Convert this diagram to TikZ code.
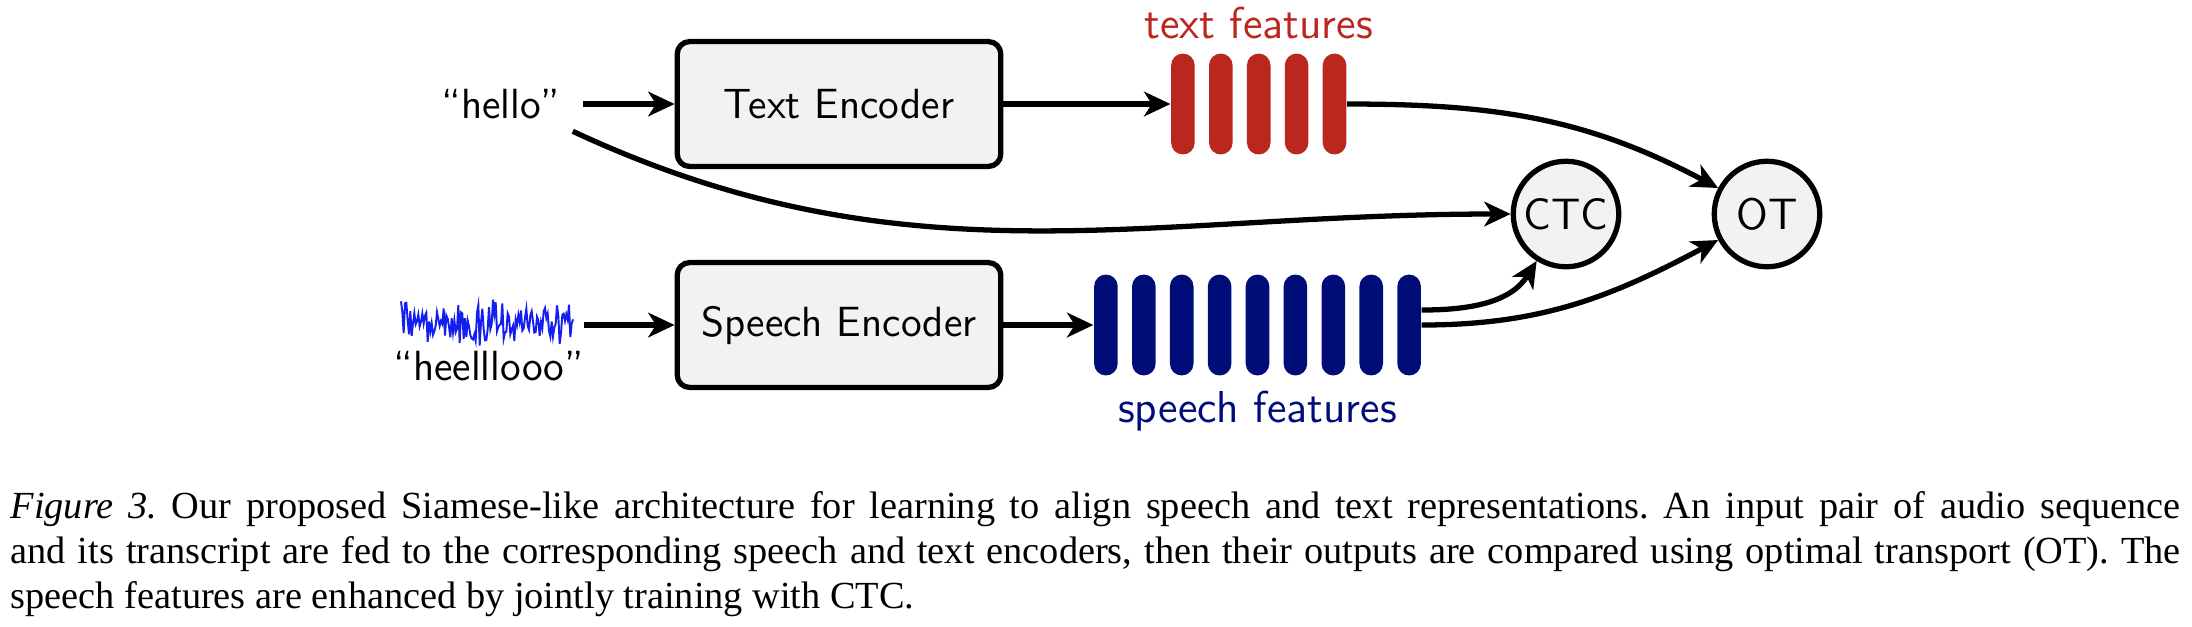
\documentclass[tikz,border=0pt]{standalone}
\usepackage{fontspec}
\newfontfamily\capfont{Liberation Serif}
\usetikzlibrary{arrows.meta, positioning, calc}
\definecolor{textfeat}{RGB}{186, 39, 30}
\definecolor{speechfeat}{RGB}{0, 12, 120}
\definecolor{wavecol}{RGB}{20, 30, 240}

\begin{document}
\begin{tikzpicture}[x=0.01cm, y=-0.01cm,
    encoder/.style={rectangle, rounded corners=3.5pt, draw, line width=1.5pt, fill=gray!10, minimum width=92pt, minimum height=35.5pt, font=\sffamily\fontsize{12}{14}\selectfont},
    loss/.style={circle, draw, line width=1.5pt, fill=gray!10, minimum size=30pt, inner sep=0pt, font=\sffamily\fontsize{12.5}{14}\selectfont},
    feat/.style={rectangle, rounded corners=3.35pt, minimum width=6.7pt, minimum height=28.7pt, inner sep=0pt},
    text feat/.style={feat, fill=textfeat},
    speech feat/.style={feat, fill=speechfeat},
    lbl/.style={font=\sffamily\fontsize{12}{14}\selectfont},
    feat lbl/.style={font=\sffamily\fontsize{12.7}{14}\selectfont, anchor=base},
    conn/.style={line width=1.5pt, -{Stealth[length=7.5pt, width=7pt, inset=2.2pt]}}
]
    \useasboundingbox (0,0) rectangle (2192,626);

    % text branch
    \node[lbl] (hello) at (501,104) {``hello''};
    \node[encoder] (txtenc) at (839,104) {Text Encoder};
    \foreach \i in {1,...,5}
        \node[text feat] (t\i) at ({1182.9+(\i-1)*37.9},104) {};
    \node[feat lbl, text=textfeat] (tflabel) at (1258.5,38) {text features};

    % speech branch
    \pgfmathsetseed{17}
    \draw[wavecol, line width=0.55pt] plot[domain=401:573, samples=130] (\x, {322 + (10+17*rnd)*rand});
    \coordinate (wave) at (584,325);
    \node[lbl, anchor=base] (heard) at (489,380) {``heelllooo''};
    \node[encoder] (spenc) at (839,325) {Speech Encoder};
    \foreach \i in {1,...,9}
        \node[speech feat] (s\i) at ({1105.9+(\i-1)*37.9},325) {};
    \node[feat lbl, text=speechfeat] (sflabel) at (1257.5,422) {speech features};

    % losses
    \node[loss] (ctc) at (1566,214) {CTC};
    \node[loss] (ot) at (1767,214) {OT};

    \draw[conn, shorten <=3pt] (hello) -- (txtenc);
    \draw[conn] (txtenc) -- (t1);
    \draw[conn] (wave) -- (spenc);
    \draw[conn] (spenc) -- (s1);

    \draw[conn] (t5.east) to[out=0, in=152] (ot);
    \draw[conn] (hello.south east) to[out=-25, in=180] (ctc);
    \draw[conn] ($(s9.east)+(0,-15)$) to[out=0, in=238] (ctc);
    \draw[conn] (s9.east) to[out=0, in=208] (ot);

    % caption
    \node[anchor=north west, inner sep=0pt, text width=617pt, align=justify, font=\capfont\fontsize{10.9}{12.7}\selectfont\frenchspacing] (caption) at (10,491)
        {\textit{Figure 3.} Our proposed Siamese-like architecture for learning to align speech and text representations. An input pair of audio sequence\linebreak
        and its transcript are fed to the corresponding speech and text encoders, then their outputs are compared using optimal transport (OT). The\linebreak
        speech features are enhanced by jointly training with CTC.};
\end{tikzpicture}
\end{document}
